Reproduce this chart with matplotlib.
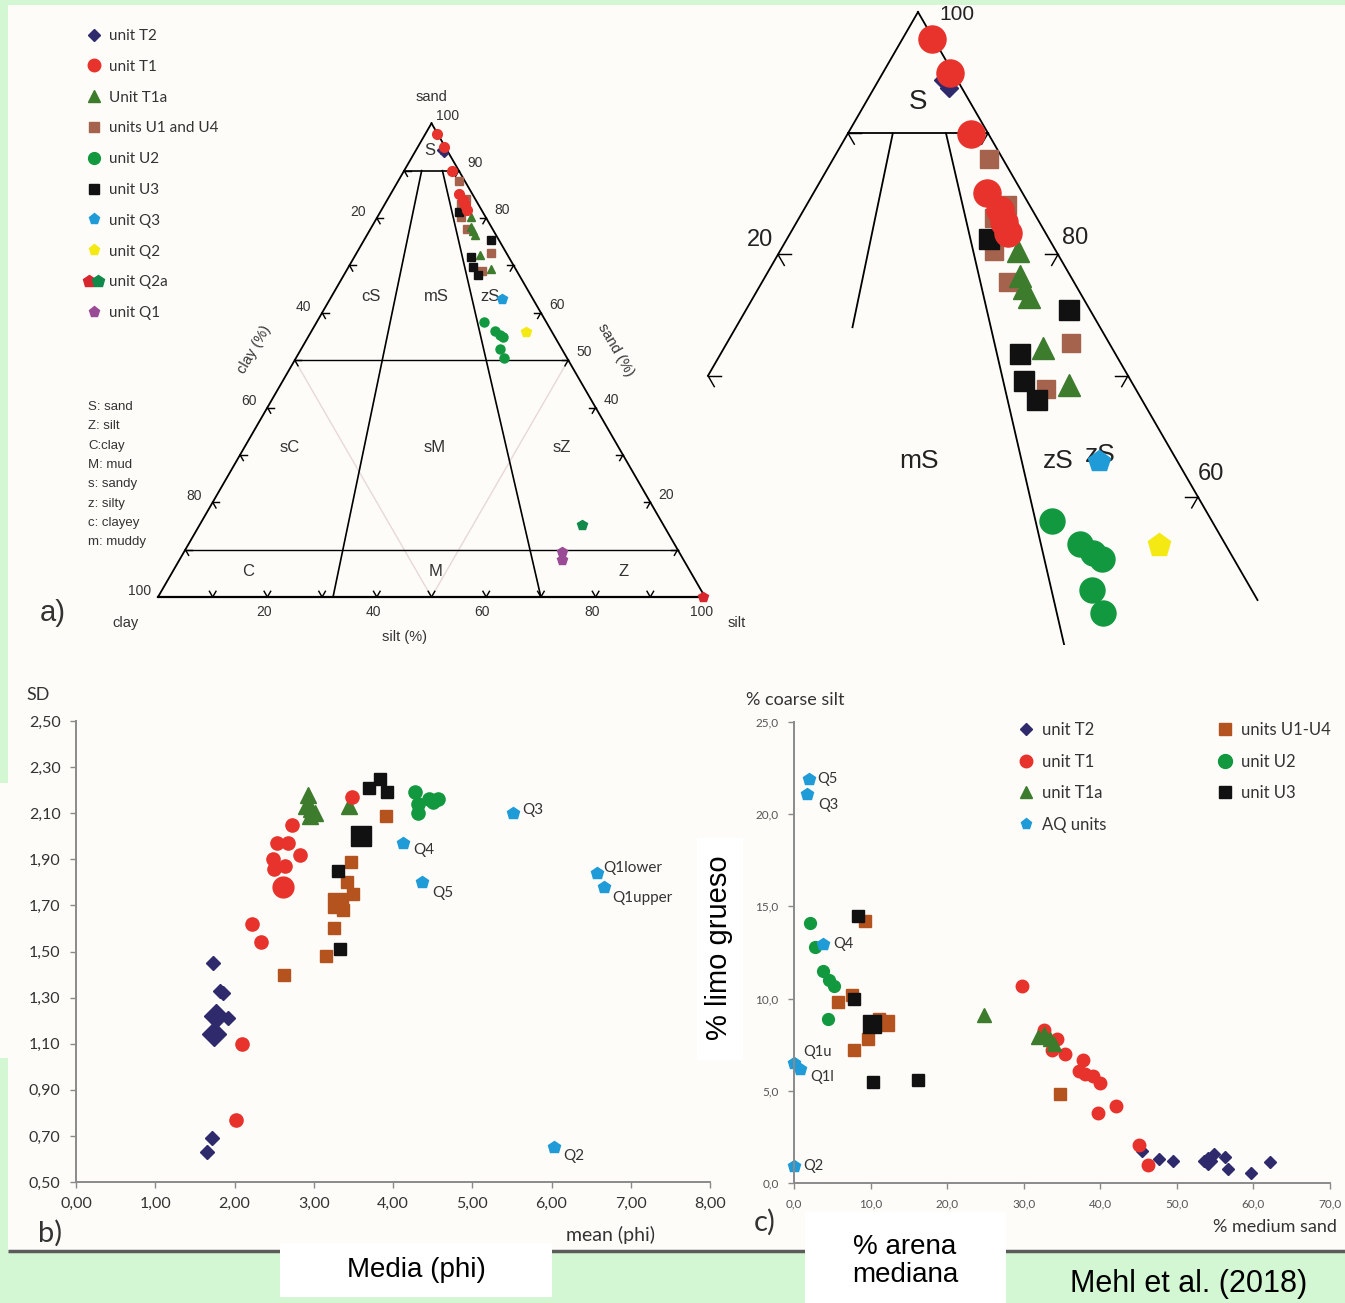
import numpy as np
import matplotlib.pyplot as plt
from matplotlib.patches import Rectangle
from matplotlib.lines import Line2D
from matplotlib.legend_handler import HandlerTuple
from matplotlib.ticker import FuncFormatter, MultipleLocator, FixedLocator

W, H = 1345, 1303

# ---------------- panel a: ternary (sand %, clay %; silt = rest) ----------------
tern_T2_sand = [94.4, 93.7]
tern_T2_clay = [1.0, 0.9]
tern_T1_sand = [97.8, 95.0, 89.9, 85.1, 83.7, 82.7, 81.8]
tern_T1_clay = [0.1, 0.2, 1.3, 2.5, 2.3, 2.5, 2.7]
tern_T1a_sand = [80.3, 78.2, 77.2, 76.5, 72.3, 69.2]
tern_T1a_clay = [2.7, 3.6, 3.8, 3.8, 4.9, 4.6]
tern_U14_sand = [87.9, 84.1, 83.0, 80.3, 77.7, 72.7, 68.9]
tern_U14_clay = [1.0, 1.6, 3.1, 4.4, 4.7, 2.7, 6.4]
tern_U2_sand = [58.0, 56.1, 55.4, 54.9, 52.3, 50.4]
tern_U2_clay = [11.4, 10.4, 9.8, 9.4, 11.4, 11.6]
tern_U3_sand = [81.3, 75.4, 71.8, 69.6, 68.0]
tern_U3_clay = [4.3, 1.5, 6.8, 7.6, 7.5]
tern_Q3_sand = [63.0]
tern_Q3_clay = [5.6]
tern_Q2_sand = [56.0]
tern_Q2_clay = [4.8]
tern_Q2a_red_sand = [0.0]
tern_Q2a_red_clay = [0.4]
tern_Q2a_green_sand = [15.2]
tern_Q2a_green_clay = [14.9]
tern_Q1_sand = [9.5, 7.8]
tern_Q1_clay = [21.4, 22.2]

# Folk classes
sand_limits = [90, 50, 10]
ratio_silt_fracs = [0.32, 0.70]
class_labels = ['S', 'cS', 'mS', 'zS', 'sC', 'sM', 'sZ', 'C', 'M', 'Z']
class_xy = [(49.7, 81.7), (38.9, 55.0), (50.8, 55.0), (60.7, 55.0), (24.1, 27.4),
            (50.5, 27.4), (73.9, 27.4), (16.5, 4.6), (50.8, 4.6), (85.2, 4.6)]
sand_tick_labels = [100, 90, 80, 60, 50, 40, 20]
clay_tick_labels = [20, 40, 60, 80, 100]
silt_tick_labels = [20, 40, 60, 80, 100]

legend_a_labels = ['unit T2', 'unit T1', 'Unit T1a', 'units U1 and U4', 'unit U2',
                   'unit U3', 'unit Q3', 'unit Q2', 'unit Q2a', 'unit Q1']
abbrev_lines = ['S: sand', 'Z: silt', 'C:clay', 'M: mud', 's: sandy', 'z: silty',
                'c: clayey', 'm: muddy']

# ---------------- panel b: mean (phi) vs SD ----------------
b_T2_mean = [1.73, 1.82, 1.85, 1.92, 1.72, 1.65]
b_T2_sd = [1.45, 1.33, 1.32, 1.21, 0.69, 0.63]
b_T2_big_mean = [1.77, 1.74]
b_T2_big_sd = [1.22, 1.14]
b_T1_mean = [2.09, 2.02, 2.22, 2.34, 2.49, 2.50, 2.64, 2.54, 2.68, 2.83, 2.72, 3.48]
b_T1_sd = [1.10, 0.77, 1.62, 1.54, 1.90, 1.86, 1.87, 1.97, 1.97, 1.92, 2.05, 2.17]
b_T1_big_mean = [2.61]
b_T1_big_sd = [1.78]
b_T1a_mean = [2.93, 2.90, 2.97, 3.02, 2.95, 3.44]
b_T1a_sd = [2.18, 2.13, 2.12, 2.10, 2.09, 2.13]
b_U14_mean = [2.62, 3.16, 3.26, 3.37, 3.42, 3.50, 3.47, 3.91]
b_U14_sd = [1.40, 1.48, 1.60, 1.68, 1.80, 1.75, 1.89, 2.09]
b_U14_big_mean = [3.31]
b_U14_big_sd = [1.71]
b_U3_mean = [3.31, 3.33, 3.70, 3.84, 3.93]
b_U3_sd = [1.85, 1.51, 2.21, 2.25, 2.19]
b_U3_big_mean = [3.60]
b_U3_big_sd = [2.00]
b_U2_mean = [4.28, 4.32, 4.32, 4.45, 4.57, 4.51]
b_U2_sd = [2.19, 2.14, 2.10, 2.16, 2.16, 2.15]
b_AQ_mean = [5.51, 4.13, 4.36, 6.57, 6.66, 6.03]
b_AQ_sd = [2.10, 1.97, 1.80, 1.84, 1.78, 0.65]
b_AQ_names = ['Q3', 'Q4', 'Q5', 'Q1lower', 'Q1upper', 'Q2']
b_AQ_offsets = [(7, 2), (7, -5), (8, -8), (5, 4), (6, -8), (7, -6)]
b_yticks = [0.5, 0.7, 0.9, 1.1, 1.3, 1.5, 1.7, 1.9, 2.1, 2.3, 2.5]

# ---------------- panel c: % medium sand vs % coarse silt ----------------
c_T2_ms = [45.5, 47.7, 49.5, 53.6, 54.9, 56.3, 56.7, 59.7, 62.2]
c_T2_cs = [1.72, 1.30, 1.18, 1.21, 1.58, 1.43, 0.76, 0.53, 1.12]
c_T2_big_ms = [54.1]
c_T2_big_cs = [1.2]
c_T1_ms = [29.8, 32.6, 34.4, 33.7, 35.4, 37.7, 37.2, 38.0, 39.0, 39.9, 39.7, 42.1, 45.1, 46.2]
c_T1_cs = [10.7, 8.3, 7.8, 7.2, 7.0, 6.65, 6.1, 5.9, 5.8, 5.4, 3.8, 4.2, 2.07, 0.98]
c_T1a_ms = [24.8, 31.9, 32.6, 33.4, 33.9]
c_T1a_cs = [9.1, 7.9, 8.1, 7.8, 7.55]
c_U14_ms = [9.3, 5.7, 7.6, 7.8, 9.6, 11.1, 34.7]
c_U14_cs = [14.2, 9.8, 10.2, 7.2, 7.8, 8.9, 4.8]
c_U14_big_ms = [12.0]
c_U14_big_cs = [8.7]
c_U3_ms = [8.4, 7.9, 10.3, 16.2]
c_U3_cs = [14.5, 10.0, 5.5, 5.6]
c_U3_big_ms = [10.2]
c_U3_big_cs = [8.6]
c_U2_ms = [2.1, 2.7, 3.8, 4.6, 5.2, 4.45]
c_U2_cs = [14.1, 12.8, 11.5, 11.0, 10.7, 8.9]
c_AQ_ms = [1.9, 1.7, 3.8, 0.0, 0.8, 0.0]
c_AQ_cs = [21.9, 21.1, 12.95, 6.5, 6.2, 0.94]
c_AQ_names = ['Q5', 'Q3', 'Q4', 'Q1u', 'Q1l', 'Q2']
c_AQ_offsets = [(6, 0), (8, -8), (7, 0), (7, 8), (7, -6), (7, 0)]

legend_c_labels = ['unit T2', 'unit T1', 'unit T1a', 'AQ units', 'units U1-U4', 'unit U2', 'unit U3']

# colours
C_T2 = '#2e2a6c'
C_T1 = '#e8322c'
C_T1A = '#3d7b2d'
C_U14A = '#a5624c'
C_U14 = '#b5531f'
C_U2 = '#12983f'
C_U3 = '#111111'
C_AQ = '#1f9bd7'
C_Q2 = '#f4e912'
C_Q1 = '#9a4b95'
C_Q2A_R = '#d8262e'
C_Q2A_G = '#10894a'
PAPER = '#fdfcf9'

CAL = ['Lato', 'DejaVu Sans']
ARI = ['Liberation Sans', 'DejaVu Sans']
NAR = ['Liberation Sans Narrow', 'Liberation Sans', 'DejaVu Sans']

SQ3 = np.sqrt(3) / 2


def tern_xy(sand, clay):
    sand = np.asarray(sand, float)
    clay = np.asarray(clay, float)
    return 100 - clay - sand / 2, sand * SQ3


fig = plt.figure(figsize=(W / 100, H / 100), dpi=100, facecolor='#d3f6d3')


def px_axes(x0, y0, x1, y1, z=1):
    ax = fig.add_axes([x0 / W, 1 - y1 / H, (x1 - x0) / W, (y1 - y0) / H])
    ax.set_zorder(z)
    ax.patch.set_visible(False)
    return ax


# background paper
bg = px_axes(0, 0, W, H, z=0)
bg.set_xlim(0, W)
bg.set_ylim(H, 0)
bg.axis('off')
bg.add_patch(Rectangle((8, 5), W - 8, 1246, color=PAPER, lw=0))
bg.add_patch(Rectangle((0, 783), 8, 275, color=PAPER, lw=0))
bg.plot([8, W], [1251, 1251], color='#5c5c5c', lw=2.5, solid_capstyle='butt')


def draw_frame(ax, lw, tick_len, sand_max_left=0, sand_min_right=0, ticks_left=(), ticks_right=(), ticks_base=()):
    # triangle edges
    s = np.array([100, sand_max_left])
    x, y = tern_xy(s, 100 - s)
    ax.plot(x, y, color='k', lw=lw)
    s = np.array([100, sand_min_right])
    x, y = tern_xy(s, 0 * s)
    ax.plot(x, y, color='k', lw=lw)
    # ticks
    for p in ticks_left:
        x0, y0 = tern_xy(p, 100 - p)
        for ang in (0, -60):
            a = np.radians(ang)
            ax.plot([x0, x0 + tick_len * np.cos(a)], [y0, y0 + tick_len * np.sin(a)], color='k', lw=lw * 0.8)
    for p in ticks_right:
        x0, y0 = tern_xy(p, 0)
        for ang in (180, 240):
            a = np.radians(ang)
            ax.plot([x0, x0 + tick_len * np.cos(a)], [y0, y0 + tick_len * np.sin(a)], color='k', lw=lw * 0.8)
    for p in ticks_base:
        x0, y0 = tern_xy(0, 100 - p)
        for ang in (60, 120):
            a = np.radians(ang)
            ax.plot([x0, x0 + tick_len * np.cos(a)], [y0, y0 + tick_len * np.sin(a)], color='k', lw=lw * 0.8)


def draw_points(ax, scale):
    sets = [
        (tern_U2_sand, tern_U2_clay, 'o', C_U2, 6.5, 18),
        (tern_Q2_sand, tern_Q2_clay, 'p', C_Q2, 7, 17),
        (tern_Q3_sand, tern_Q3_clay, 'p', C_AQ, 7, 16),
        (tern_U14_sand, tern_U14_clay, 's', C_U14A, 5.5, 13),
        (tern_T1a_sand, tern_T1a_clay, '^', C_T1A, 6, 16),
        (tern_U3_sand, tern_U3_clay, 's', C_U3, 5.5, 14),
        (tern_T2_sand, tern_T2_clay, 'D', C_T2, 4.5, 9),
        (tern_T1_sand, tern_T1_clay, 'o', C_T1, 7, 19.5),
        (tern_Q2a_red_sand, tern_Q2a_red_clay, 'p', C_Q2A_R, 7, 17),
        (tern_Q2a_green_sand, tern_Q2a_green_clay, 'p', C_Q2A_G, 7, 17),
        (tern_Q1_sand, tern_Q1_clay, 'p', C_Q1, 7, 17),
    ]
    for sand, clay, mk, col, ms_small, ms_big in sets:
        x, y = tern_xy(sand, clay)
        ms = ms_small if scale == 'small' else ms_big
        ax.plot(x, y, ls='none', marker=mk, color=col, ms=ms, mec=col, zorder=4)


# ---- main ternary ----
s_a = 5.47
ax_a = px_axes(8, 5, 760, 660, z=2)
ax_a.set_xlim((8 - 158) / s_a, (760 - 158) / s_a)
ax_a.set_ylim((597 - 660) / s_a, (597 - 5) / s_a)
ax_a.axis('off')

tens = list(range(10, 100, 10))
draw_frame(ax_a, 1.3, 1.2, ticks_left=tens, ticks_right=tens, ticks_base=tens)
x, y = tern_xy([0, 0], [100, 0])
ax_a.plot(x, y, color='k', lw=1.6)
for sl in sand_limits:
    x, y = tern_xy([sl, sl], [100 - sl, 0])
    ax_a.plot(x, y, color='k', lw=1.0 if sl != 90 else 1.2)
for f in ratio_silt_fracs:
    x, y = tern_xy([90, 0], [10 * (1 - f), 100 * (1 - f)])
    ax_a.plot(x, y, color='k', lw=1.2)
for c_start in (50, 0):
    x, y = tern_xy([50, 0], [c_start, 50])
    ax_a.plot(x, y, color='#e8d8d8', lw=1.0, zorder=1)

for lab, (tx, ty) in zip(class_labels, class_xy):
    ax_a.text(tx, ty, lab, ha='center', va='center', fontsize=12, family=ARI, color='#333', zorder=3)

for p in sand_tick_labels:
    x0, y0 = tern_xy(p, 0)
    ax_a.text(x0 + 2.9, y0 + 1.4, str(p), ha='center', va='center', fontsize=10, family=ARI, color='#333')
for p in clay_tick_labels:
    x0, y0 = tern_xy(100 - p, p)
    ax_a.text(x0 - 3.4, y0 + 1.1, str(p), ha='center', va='center', fontsize=10, family=ARI, color='#333')
for p in silt_tick_labels:
    x0, y0 = tern_xy(0, 100 - p)
    ax_a.text(x0 - 0.7, y0 - 2.8, str(p), ha='center', va='center', fontsize=10, family=ARI, color='#333')

xa, ya = tern_xy(100, 0)
ax_a.text(xa, ya + 4.8, 'sand', ha='center', va='center', fontsize=10.5, family=ARI, color='#333')
ax_a.text(-5.9, -4.8, 'clay', ha='center', va='center', fontsize=10.5, family=ARI, color='#333')
ax_a.text(105.8, -4.8, 'silt', ha='center', va='center', fontsize=10.5, family=ARI, color='#333')
ax_a.text(45.0, -7.4, 'silt (%)', ha='center', va='center', fontsize=10.5, family=ARI, color='#333')
ax_a.text(17.6, 45.2, 'clay (%)', ha='center', va='center', rotation=60, fontsize=10.5, family=ARI, color='#333')
ax_a.text(83.6, 45.2, 'sand (%)', ha='center', va='center', rotation=-60, fontsize=10.5, family=ARI, color='#333')
draw_points(ax_a, 'small')

# legend of panel a
leg_handles = [
    Line2D([], [], ls='none', marker='D', color=C_T2, ms=6),
    Line2D([], [], ls='none', marker='o', color=C_T1, ms=9),
    Line2D([], [], ls='none', marker='^', color=C_T1A, ms=9),
    Line2D([], [], ls='none', marker='s', color=C_U14A, ms=7),
    Line2D([], [], ls='none', marker='o', color=C_U2, ms=8.5),
    Line2D([], [], ls='none', marker='s', color=C_U3, ms=7),
    Line2D([], [], ls='none', marker='p', color=C_AQ, ms=8),
    Line2D([], [], ls='none', marker='p', color=C_Q2, ms=8),
    (Line2D([], [], ls='none', marker='p', color=C_Q2A_R, ms=9),
     Line2D([], [], ls='none', marker='p', color=C_Q2A_G, ms=9)),
    Line2D([], [], ls='none', marker='p', color=C_Q1, ms=8),
]
leg_a = ax_a.legend(leg_handles, legend_a_labels, loc='upper left', bbox_to_anchor=(86 / W, 1 - 29 / H),
                    bbox_transform=fig.transFigure, frameon=False, borderpad=0, borderaxespad=0,
                    handlelength=1.0, handletextpad=0.5, labelspacing=1.1,
                    prop={'family': CAL, 'size': 11},
                    handler_map={tuple: HandlerTuple(ndivide=None, pad=0.1)})
for t in leg_a.get_texts():
    t.set_color('#333')

# ---- zoomed ternary ----
s_z = 14.0
yap = 100 * SQ3
ax_z = px_axes(700, 5, 1345, 645, z=2)
ax_z.set_xlim(50 + (700 - 918) / s_z, 50 + (1345 - 918) / s_z)
ax_z.set_ylim(yap - (645 - 12) / s_z, yap + (12 - 5) / s_z)
ax_z.axis('off')
draw_frame(ax_z, 1.3, 0.9, sand_max_left=70, sand_min_right=51.5,
           ticks_left=[90, 80, 70], ticks_right=[90, 80, 70, 60])
x, y = tern_xy([90, 90], [10, 0])
ax_z.plot(x, y, color='k', lw=1.3)
x, y = tern_xy([90, 74], [10 * (1 - ratio_silt_fracs[0]), 26 * (1 - ratio_silt_fracs[0])])
ax_z.plot(x, y, color='k', lw=1.3)
x, y = tern_xy([90, 0], [10 * (1 - ratio_silt_fracs[1]), 100 * (1 - ratio_silt_fracs[1])])
ax_z.plot(x, y, color='k', lw=1.3)
ax_z.text(50.0, 80.2, 'S', ha='center', va='center', fontsize=20, family=ARI, color='#222')
ax_z.text(50.1, 54.5, 'mS', ha='center', va='center', fontsize=19, family=ARI, color='#222')
ax_z.text(60.0, 54.5, 'zS', ha='center', va='center', fontsize=19, family=ARI, color='#222')
ax_z.text(63.0, 54.96, 'zS', ha='center', va='center', fontsize=19, family=ARI, color='#222')
ax_z.text(38.7, 70.3, '20', ha='center', va='center', fontsize=17, family=ARI, color='#222')
ax_z.text(61.2, 70.45, '80', ha='center', va='center', fontsize=17, family=ARI, color='#222')
ax_z.text(70.9, 53.6, '60', ha='center', va='center', fontsize=17, family=ARI, color='#222')
ax_z.text(51.5, yap - 0.15, '100', ha='left', va='center', fontsize=15, family=ARI, color='#222')
draw_points(ax_z, 'big')

# ---------------- panel b ----------------
fmt2 = FuncFormatter(lambda v, p: f'{v:.2f}'.replace('.', ','))
fmt1 = FuncFormatter(lambda v, p: f'{v:.1f}'.replace('.', ','))


def style_axes(ax, labsize, labcol):
    for sp in ('top', 'right'):
        ax.spines[sp].set_visible(False)
    for sp in ('left', 'bottom'):
        ax.spines[sp].set_color('#8a8a8a')
        ax.spines[sp].set_linewidth(1.4)
    ax.tick_params(direction='out', length=4, width=1, color='#8a8a8a', labelcolor=labcol,
                   labelsize=labsize, pad=7)
    for t in ax.get_xticklabels() + ax.get_yticklabels():
        t.set_family(CAL)


ax_b = px_axes(76, 721, 710, 1182, z=2)
ax_b.set_xlim(0, 8)
ax_b.set_ylim(0.5, 2.5)
ax_b.xaxis.set_major_locator(MultipleLocator(1))
ax_b.yaxis.set_major_locator(FixedLocator(b_yticks))
ax_b.xaxis.set_major_formatter(fmt2)
ax_b.yaxis.set_major_formatter(fmt2)
style_axes(ax_b, 11.5, '#333')

ax_b.plot(b_U2_mean, b_U2_sd, ls='none', marker='o', color=C_U2, ms=9.5, clip_on=False)
ax_b.plot(b_U14_mean, b_U14_sd, ls='none', marker='s', color=C_U14, ms=9, clip_on=False)
ax_b.plot(b_U14_big_mean, b_U14_big_sd, ls='none', marker='s', color=C_U14, ms=15, clip_on=False)
ax_b.plot(b_U3_mean, b_U3_sd, ls='none', marker='s', color=C_U3, ms=9, clip_on=False)
ax_b.plot(b_U3_big_mean, b_U3_big_sd, ls='none', marker='s', color=C_U3, ms=15, clip_on=False)
ax_b.plot(b_T1a_mean, b_T1a_sd, ls='none', marker='^', color=C_T1A, ms=11, clip_on=False)
ax_b.plot(b_T1_mean, b_T1_sd, ls='none', marker='o', color=C_T1, ms=9.5, clip_on=False)
ax_b.plot(b_T1_big_mean, b_T1_big_sd, ls='none', marker='o', color=C_T1, ms=15, clip_on=False)
ax_b.plot(b_T2_mean, b_T2_sd, ls='none', marker='D', color=C_T2, ms=7.5, clip_on=False)
ax_b.plot(b_T2_big_mean, b_T2_big_sd, ls='none', marker='D', color=C_T2, ms=12, clip_on=False)
ax_b.plot(b_AQ_mean, b_AQ_sd, ls='none', marker='p', color=C_AQ, ms=9, clip_on=False)
for mx, my, name, off in zip(b_AQ_mean, b_AQ_sd, b_AQ_names, b_AQ_offsets):
    ax_b.annotate(name, (mx, my), xytext=off, textcoords='offset points', ha='left', va='center',
                  fontsize=11, family=CAL, color='#333')

# ---------------- panel c ----------------
ax_c = px_axes(794, 722, 1330, 1183, z=2)
ax_c.set_xlim(0, 70)
ax_c.set_ylim(0, 25)
ax_c.xaxis.set_major_locator(MultipleLocator(10))
ax_c.yaxis.set_major_locator(MultipleLocator(5))
ax_c.xaxis.set_major_formatter(fmt1)
ax_c.yaxis.set_major_formatter(fmt1)
style_axes(ax_c, 8.5, '#555')

ax_c.plot(c_T2_ms, c_T2_cs, ls='none', marker='D', color=C_T2, ms=6.5, clip_on=False)
ax_c.plot(c_T2_big_ms, c_T2_big_cs, ls='none', marker='D', color=C_T2, ms=9, clip_on=False)
ax_c.plot(c_T1_ms, c_T1_cs, ls='none', marker='o', color=C_T1, ms=9, clip_on=False)
ax_c.plot(c_T1a_ms, c_T1a_cs, ls='none', marker='^', color=C_T1A, ms=10, clip_on=False)
ax_c.plot(c_U14_ms, c_U14_cs, ls='none', marker='s', color=C_U14, ms=8, clip_on=False)
ax_c.plot(c_U14_big_ms, c_U14_big_cs, ls='none', marker='s', color=C_U14, ms=12, clip_on=False)
ax_c.plot(c_U3_ms, c_U3_cs, ls='none', marker='s', color=C_U3, ms=8, clip_on=False)
ax_c.plot(c_U3_big_ms, c_U3_big_cs, ls='none', marker='s', color=C_U3, ms=13, clip_on=False)
ax_c.plot(c_U2_ms, c_U2_cs, ls='none', marker='o', color=C_U2, ms=8.5, clip_on=False)
ax_c.plot(c_AQ_ms, c_AQ_cs, ls='none', marker='p', color=C_AQ, ms=9, clip_on=False)
for mx, my, name, off in zip(c_AQ_ms, c_AQ_cs, c_AQ_names, c_AQ_offsets):
    ax_c.annotate(name, (mx, my), xytext=off, textcoords='offset points', ha='left', va='center',
                  fontsize=10.5, family=CAL, color='#333')

leg_c_handles = [
    Line2D([], [], ls='none', marker='D', color=C_T2, ms=6),
    Line2D([], [], ls='none', marker='o', color=C_T1, ms=9),
    Line2D([], [], ls='none', marker='^', color=C_T1A, ms=9),
    Line2D([], [], ls='none', marker='p', color=C_AQ, ms=8),
    Line2D([], [], ls='none', marker='s', color=C_U14, ms=8),
    Line2D([], [], ls='none', marker='o', color=C_U2, ms=10),
    Line2D([], [], ls='none', marker='s', color=C_U3, ms=8),
]
leg_c = ax_c.legend(leg_c_handles, legend_c_labels, loc='upper left', bbox_to_anchor=(1018 / W, 1 - 722 / H),
                    bbox_transform=fig.transFigure, frameon=False, borderpad=0, borderaxespad=0, ncol=2,
                    handlelength=1.0, handletextpad=0.45, labelspacing=0.93, columnspacing=6.6,
                    prop={'family': CAL, 'size': 12})
for t in leg_c.get_texts():
    t.set_color('#333')

# ---------------- free text and captions ----------------
top = px_axes(0, 0, W, H, z=6)
top.set_xlim(0, W)
top.set_ylim(H, 0)
top.axis('off')

for i, line in enumerate(abbrev_lines):
    top.text(88, 407 + i * 19.3, line, ha='left', va='center', fontsize=9.5, family=NAR, color='#333')

top.text(53, 613, 'a)', ha='center', va='center', fontsize=21, family=ARI, color='#333')
top.text(50, 1233, 'b)', ha='center', va='center', fontsize=21, family=CAL, color='#333')
top.text(765, 1222, 'c)', ha='center', va='center', fontsize=21, family=CAL, color='#333')
top.text(26, 695, 'SD', ha='left', va='center', fontsize=13, family=CAL, color='#333')
top.text(655, 1235, 'mean (phi)', ha='right', va='center', fontsize=14, family=CAL, color='#333')
top.text(746, 700, '% coarse silt', ha='left', va='center', fontsize=13, family=CAL, color='#333')
top.text(1337, 1227, '% medium sand', ha='right', va='center', fontsize=13, family=CAL, color='#333')

top.add_patch(Rectangle((697, 838), 46, 222, color='white', lw=0))
top.text(719, 948, '% limo grueso', ha='center', va='center', rotation=90, fontsize=21, family=ARI, color='black')

top.add_patch(Rectangle((280, 1243), 272, 54, color='white', lw=0))
top.text(416, 1270, 'Media (phi)', ha='center', va='center', fontsize=20, family=ARI, color='black')
top.add_patch(Rectangle((805, 1212), 201, 91, color='white', lw=0))
top.text(905, 1261, '% arena\nmediana', ha='center', va='center', fontsize=20, family=ARI, color='black',
         linespacing=1.15)
top.text(1189, 1284, 'Mehl et al. (2018)', ha='center', va='center', fontsize=22, family=ARI, color='black')

fig.savefig('out.png', dpi=100, facecolor=fig.get_facecolor())
